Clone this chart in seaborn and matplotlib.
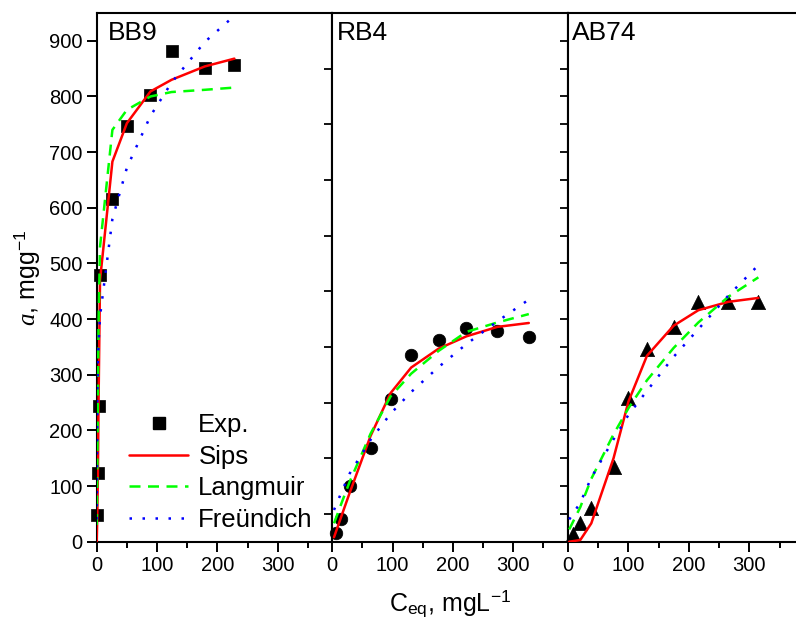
import matplotlib
matplotlib.use("Agg")
import matplotlib.pyplot as plt
from matplotlib.lines import Line2D
from matplotlib.ticker import MultipleLocator
import pandas as pd
import seaborn as sns

# ---------------- data ----------------
# BB9
bb9_x = [1, 2, 3, 5.5, 26, 50, 89, 124, 179, 228]
bb9_exp = [48, 123, 244, 479, 616, 747, 802, 882, 852, 856]
bb9_fit_x = [0, 1, 2, 3, 5.5, 26, 50, 89, 124, 179, 228]
bb9_sips = [0, 50, 125, 245, 470, 683, 752, 809, 830, 854, 868]
bb9_lang = [30, 130, 260, 390, 530, 740, 776, 800, 808, 812, 816]
bb9_freu = [40, 270, 320, 355, 405, 580, 672, 765, 825, 898, 945]

# RB4
rb4_x = [5.5, 15, 28.7, 63.6, 96.8, 131, 176.6, 222.5, 274, 326]
rb4_exp = [15, 40, 100, 168, 256, 335, 362, 384, 379, 367]
rb4_fit_x = [3, 15, 28.7, 63.6, 96.8, 131, 176.6, 222.5, 274, 326]
rb4_sips = [8, 45, 87, 190, 267, 313, 347, 369, 386, 393]
rb4_lang = [33, 68, 107, 194, 261, 302, 343, 377, 394, 409]
rb4_freu = [57, 88, 122, 183, 230, 269, 314, 355, 396, 435]

# AB74
ab74_x = [7.6, 20.3, 38.5, 75.3, 100, 130.5, 174.5, 215.6, 265, 314.8]
ab74_exp = [14, 34, 61, 134, 258, 346, 386, 431, 430, 430]
ab74_fit_x = [2, 20.3, 38.5, 75.3, 100, 130.5, 174.5, 215.6, 265, 314.8]
ab74_sips = [0, 3, 33, 150, 252, 334, 388, 416, 431, 438]
ab74_lang = [22, 62, 113, 193, 240, 290, 348, 394, 440, 475]
ab74_freu = [40, 70, 115, 184, 228, 271, 332, 382, 442, 497]

panel_names = ["BB9", "RB4", "AB74"]
model_names = ["Sips", "Langmuir", "Freündich"]
legend_labels = ["Exp.", "Sips", "Langmuir", "Freündich"]
y_ticks = [0, 100, 200, 300, 400, 500, 600, 700, 800, 900]
x_ticks = [0, 100, 200, 300]

# ---------------- style ----------------
sns.set_style("ticks")
plt.rcParams["font.family"] = ["Liberation Sans", "DejaVu Sans"]
plt.rcParams["mathtext.fontset"] = "custom"
plt.rcParams["mathtext.rm"] = "Liberation Sans"
plt.rcParams["mathtext.it"] = "Liberation Serif:italic"
plt.rcParams["axes.linewidth"] = 1.5
for k in ["text.color", "axes.labelcolor", "xtick.color", "ytick.color", "axes.edgecolor"]:
    plt.rcParams[k] = "black"

palette = {"Sips": "#FF0000", "Langmuir": "#00FF00", "Freündich": "#0000FF"}
dashes = {"Sips": "", "Langmuir": (4.4, 3.0), "Freündich": (1, 4.2)}

W, H = 796, 630
fig = plt.figure(figsize=(W / 100, H / 100), dpi=100)


def rect(l, r, t=13, b=541.7):
    return [l / W, 1 - b / H, (r - l) / W, (b - t) / H]


ax1 = fig.add_axes(rect(96.7, 332.2))
ax2 = fig.add_axes(rect(332.2, 568))
ax3 = fig.add_axes(rect(568, 796))
axes = [ax1, ax2, ax3]

panels = [
    (bb9_x, bb9_exp, bb9_fit_x, bb9_sips, bb9_lang, bb9_freu, "s", 66, 390),
    (rb4_x, rb4_exp, rb4_fit_x, rb4_sips, rb4_lang, rb4_freu, "o", 82, 391),
    (ab74_x, ab74_exp, ab74_fit_x, ab74_sips, ab74_lang, ab74_freu, "^", 105, 377),
]

for i, (ax, p) in enumerate(zip(axes, panels)):
    x, yexp, fx, s, l, f, mk, ms, xmax = p
    exp_df = pd.DataFrame({"x": x, "a": yexp})
    fit_df = pd.concat([
        pd.DataFrame({"x": fx, "a": s, "model": "Sips"}),
        pd.DataFrame({"x": fx, "a": l, "model": "Langmuir"}),
        pd.DataFrame({"x": fx, "a": f, "model": "Freündich"}),
    ])
    sns.scatterplot(data=exp_df, x="x", y="a", marker=mk, s=ms, color="black",
                    edgecolor="black", linewidth=0.5, ax=ax, zorder=2, clip_on=False)
    sns.lineplot(data=fit_df, x="x", y="a", hue="model", style="model",
                 hue_order=model_names, style_order=model_names,
                 palette=palette, dashes=dashes, estimator=None, sort=False,
                 linewidth=1.8, legend=False, ax=ax, zorder=3)
    ax.set_xlim(0, xmax)
    ax.set_ylim(0, 950)
    ax.set_xticks(x_ticks)
    ax.xaxis.set_minor_locator(MultipleLocator(50))
    ax.set_yticks(y_ticks)
    ax.yaxis.set_minor_locator(MultipleLocator(50))
    ax.set_xlabel("")
    ax.set_ylabel("")
    ax.tick_params(axis="x", which="major", direction="out", length=7, width=1.4,
                   labelsize=14.5, pad=3, top=False)
    ax.tick_params(axis="x", which="minor", direction="out", length=4, width=1.4, top=False)
    ax.tick_params(axis="y", which="both", direction="in", length=5.5, width=1.3,
                   left=False, right=True, labelleft=False, labelright=False)
    for sp in ax.spines.values():
        sp.set_linewidth(1.5)
        sp.set_visible(True)
    ax.text(0.048 if i == 0 else 0.018, 0.985, panel_names[i], transform=ax.transAxes,
            ha="left", va="top", fontsize=19)

ax1.tick_params(axis="y", which="major", left=True, direction="out", length=7,
                width=1.4, labelleft=True, labelsize=14.5, pad=3)
ax1.tick_params(axis="y", which="minor", left=False)
ax1.set_ylabel(r"$\mathit{a}$, mgg$^{-1}$", fontsize=18, labelpad=5)
ax3.spines["right"].set_visible(False)
ax3.tick_params(axis="y", which="both", right=False)

fig.text(450 / W, 1 - 604 / H, r"C$_{\mathrm{eq}}$, mgL$^{-1}$", ha="center",
         va="center", fontsize=18)

handles = [
    Line2D([], [], linestyle="none", marker="s", markersize=8, color="black"),
    Line2D([], [], color="#FF0000", lw=1.8),
    Line2D([], [], color="#00FF00", lw=1.8, dashes=(4.4, 3.0)),
    Line2D([], [], color="#0000FF", lw=1.8, dashes=(1, 4.2)),
]
ax1.legend(handles, legend_labels, loc="lower left", bbox_to_anchor=(0.137, 0.018),
           frameon=False, fontsize=18.5, handlelength=2.3, handletextpad=0.4,
           labelspacing=0.3, borderpad=0, borderaxespad=0)

fig.savefig("out.png", dpi=100)
